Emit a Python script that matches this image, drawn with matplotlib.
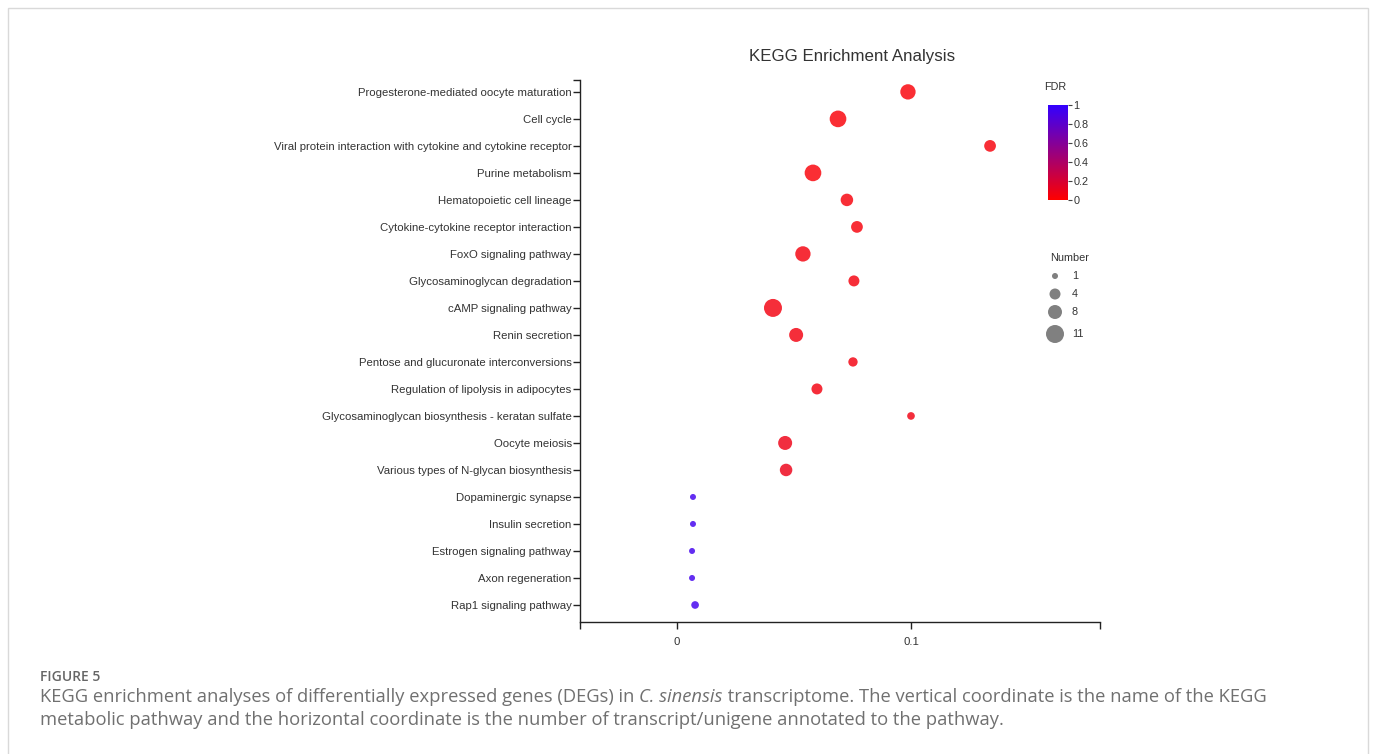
import numpy as np
import matplotlib
matplotlib.use("Agg")
import matplotlib.pyplot as plt
from matplotlib.colors import LinearSegmentedColormap, Normalize
from matplotlib.patches import Rectangle

plt.rcParams['font.family'] = ['Liberation Sans', 'DejaVu Sans']

# KEGG pathways, top to bottom
pathways = [
    "Progesterone-mediated oocyte maturation",
    "Cell cycle",
    "Viral protein interaction with cytokine and cytokine receptor",
    "Purine metabolism",
    "Hematopoietic cell lineage",
    "Cytokine-cytokine receptor interaction",
    "FoxO signaling pathway",
    "Glycosaminoglycan degradation",
    "cAMP signaling pathway",
    "Renin secretion",
    "Pentose and glucuronate interconversions",
    "Regulation of lipolysis in adipocytes",
    "Glycosaminoglycan biosynthesis - keratan sulfate",
    "Oocyte meiosis",
    "Various types of N-glycan biosynthesis",
    "Dopaminergic synapse",
    "Insulin secretion",
    "Estrogen signaling pathway",
    "Axon regeneration",
    "Rap1 signaling pathway",
]
rich_factor = [0.0987, 0.0688, 0.1338, 0.0581, 0.0726, 0.0769, 0.0538, 0.0756,
               0.0410, 0.0509, 0.0752, 0.0598, 0.1000, 0.0462, 0.0466,
               0.0068, 0.0068, 0.0064, 0.0064, 0.0077]
gene_number = [9, 10, 5, 10, 6, 5, 9, 4, 11, 8, 3, 4, 2, 8, 6, 1, 1, 1, 1, 2]
fdr = [0.03, 0.03, 0.04, 0.03, 0.04, 0.04, 0.05, 0.05, 0.06, 0.06, 0.06, 0.06,
       0.07, 0.08, 0.09, 0.93, 0.93, 0.93, 0.93, 0.93]

legend_numbers = [1, 4, 8, 11]
fdr_ticks = [0, 0.2, 0.4, 0.6, 0.8, 1]
fdr_ticklabels = ["0", "0.2", "0.4", "0.6", "0.8", "1"]
x_ticks = [0, 0.1]
x_ticklabels = ["0", "0.1"]

W, H = 1375, 754
DPI = 100
fig = plt.figure(figsize=(W / DPI, H / DPI), dpi=DPI)

def box(x0, y0, x1, y1):
    return [x0 / W, 1 - y1 / H, (x1 - x0) / W, (y1 - y0) / H]

# page frame
fig.patches.append(Rectangle((8 / W, -0.05), (1368 - 8) / W, 1 - 8 / H + 0.05,
                             transform=fig.transFigure, fill=False,
                             edgecolor="#d9d9d9", linewidth=1.0))

cmap = LinearSegmentedColormap.from_list("fdr", ["#ff0000", "#3300ff"])
norm = Normalize(0, 1)

def diam_px(n):
    return np.interp(n, [1, 4, 8, 11], [6, 11, 14, 18])

def size_pts(n):
    d = diam_px(np.asarray(n, dtype=float)) * 72 / DPI
    return d ** 2

ax = fig.add_axes(box(580, 80, 1100, 622))
y = np.arange(len(pathways))
ax.scatter(rich_factor, y, s=size_pts(gene_number), c=fdr, cmap=cmap, norm=norm,
           alpha=0.82, edgecolors="none", zorder=3)

xmin, xmax = -0.0415, 0.1808
ymin, ymax = 19.63, -0.44
ax.set_xlim(xmin, xmax)
ax.set_ylim(ymin, ymax)
ax.set_xticks([xmin] + x_ticks + [xmax])
ax.set_xticklabels([""] + x_ticklabels + [""])
ax.set_yticks([ymax] + list(y))
ax.set_yticklabels([""] + pathways)
for s in ["top", "right"]:
    ax.spines[s].set_visible(False)
for s in ["left", "bottom"]:
    ax.spines[s].set_color("#222222")
    ax.spines[s].set_linewidth(1.0)
ax.tick_params(axis="both", colors="#222222", length=5, width=1.0,
               labelsize=8.2, labelcolor="#333333")
ax.tick_params(axis="x", pad=6)
ax.tick_params(axis="y", pad=1)
ax.set_facecolor("none")

fig.text(852 / W, 1 - 57 / H, "KEGG Enrichment Analysis", ha="center", va="center",
         fontsize=12.2, color="#333333")

# FDR colour bar
cax = fig.add_axes(box(1048, 105, 1068, 200))
grad = np.linspace(0, 1, 256).reshape(-1, 1)
cax.imshow(grad, aspect="auto", cmap=cmap, norm=norm, origin="lower",
           extent=[0, 1, 0, 1])
cax.set_xticks([])
cax.yaxis.tick_right()
cax.set_yticks(fdr_ticks)
cax.set_yticklabels(fdr_ticklabels)
cax.tick_params(axis="y", length=3, width=0.8, colors="#444444", labelsize=7.8,
                labelcolor="#333333", pad=1.0)
for s in cax.spines.values():
    s.set_visible(False)
fig.text(1044 / W, 1 - 87 / H, "FDR", ha="left", va="center", fontsize=7.8,
         color="#333333")

# size legend
lax = fig.add_axes(box(1040, 265, 1100, 348))
lax.set_xlim(1040, 1100)
lax.set_ylim(348, 265)
lax.axis("off")
leg_y = [276, 294, 312, 334]
lax.scatter([1055] * len(legend_numbers), leg_y, s=size_pts(legend_numbers),
            color="#808080", edgecolors="none")
for n, yy in zip(legend_numbers, leg_y):
    lax.text(1072, yy, str(n), ha="left", va="center", fontsize=7.8, color="#333333")
fig.text(1050 / W, 1 - 258 / H, "Number", ha="left", va="center", fontsize=7.8,
         color="#333333")

# caption
cap_font = ["Open Sans", "DejaVu Sans"]
cap_size = 13.25
cap_color = "#707070"
cap_x = 40
fig.text(cap_x / W, 1 - 677 / H, "FIGURE 5", ha="left", va="center",
         fontsize=10.0, weight="semibold", color="#666666", family=cap_font)
t1 = fig.text(cap_x / W, 1 - 697 / H,
              "KEGG enrichment analyses of differentially expressed genes (DEGs) in ",
              ha="left", va="center", fontsize=cap_size, color=cap_color, family=cap_font)
fig.canvas.draw()
r = fig.canvas.get_renderer()
bb = t1.get_window_extent(r)
t2 = fig.text(bb.x1 / W, 1 - 697 / H, "C. sinensis", ha="left", va="center",
              fontsize=cap_size, color=cap_color, style="italic", family=cap_font)
bb2 = t2.get_window_extent(r)
fig.text(bb2.x1 / W, 1 - 697 / H,
         " transcriptome. The vertical coordinate is the name of the KEGG",
         ha="left", va="center", fontsize=cap_size, color=cap_color, family=cap_font)
fig.text(cap_x / W, 1 - 720 / H,
         "metabolic pathway and the horizontal coordinate is the number of transcript/unigene annotated to the pathway.",
         ha="left", va="center", fontsize=cap_size, color=cap_color, family=cap_font)

fig.savefig("out.png", dpi=DPI, facecolor="white")
